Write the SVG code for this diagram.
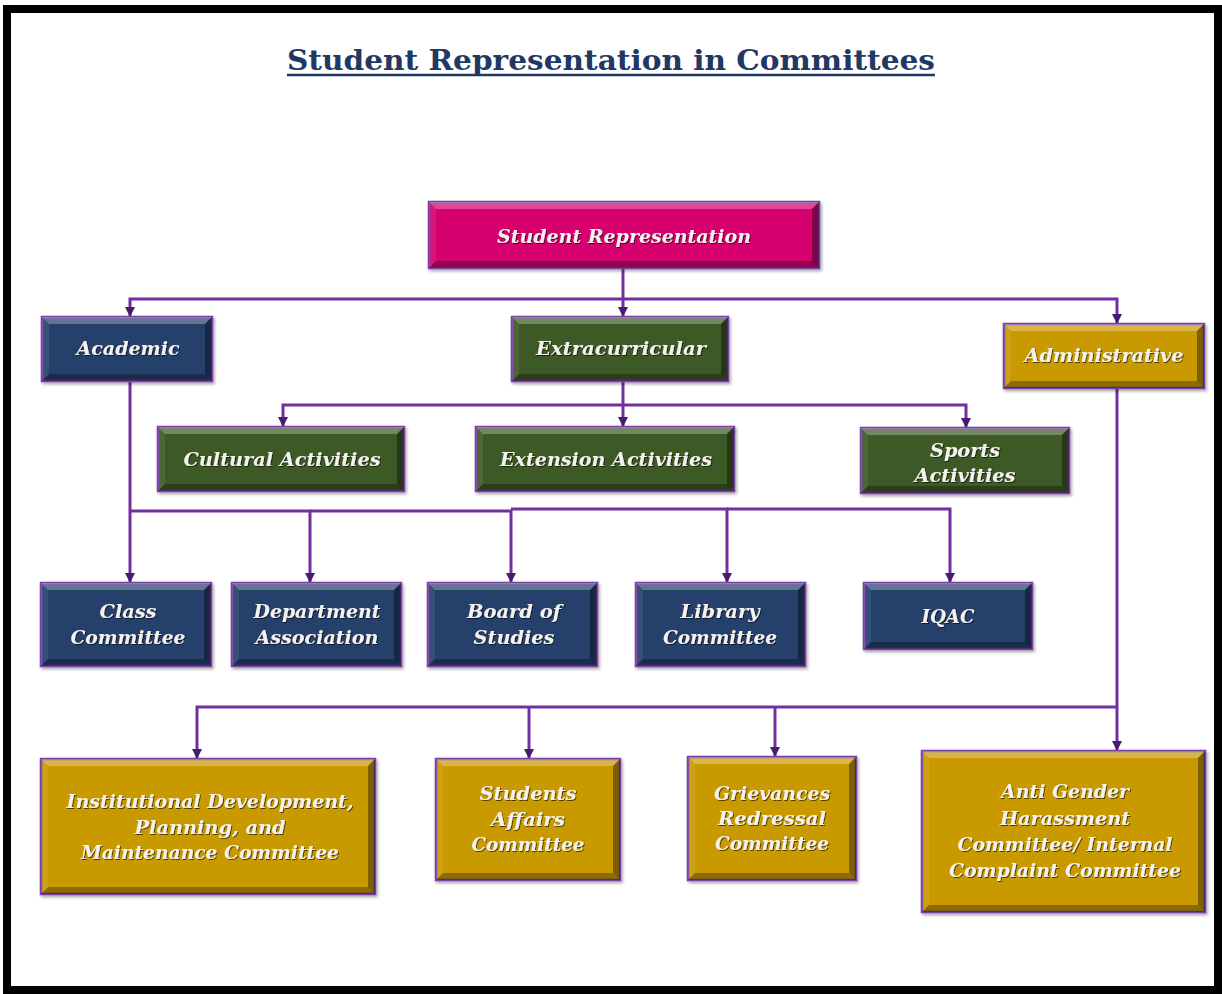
<svg xmlns="http://www.w3.org/2000/svg" width="1222" height="994" viewBox="0 0 1222 994">
<style>
.frame{fill:#ffffff;stroke:#000;stroke-width:8}
.title{font-family:"DejaVu Serif","Liberation Serif",serif;font-weight:bold;font-size:28px;fill:#1f3864;text-anchor:middle}
.box{stroke:#7a3fa6;stroke-width:2.5}
.mag{fill:#d6006e}
.nav{fill:#263f6c}
.grn{fill:#3c5a27}
.gld{fill:#c99a04}
.bt{fill:#ffffff;fill-opacity:0.28}
.bl{fill:#ffffff;fill-opacity:0.08}
.br{fill:#000000;fill-opacity:0.38}
.bb{fill:#000000;fill-opacity:0.3}
.t{font-family:"DejaVu Serif","Liberation Serif",serif;font-weight:bold;font-style:italic;font-size:18px;fill:#f4f2ee;text-anchor:middle}
.c{fill:none;stroke:#7030a0;stroke-width:3}
</style>
<defs>
<marker id="ah" viewBox="0 0 10 10" refX="10" refY="5" markerWidth="10" markerHeight="10" markerUnits="userSpaceOnUse" orient="auto">
<path d="M0,0 L10,5 L0,10 z" fill="#4a1a70"/>
</marker>
<filter id="ts" x="-10%" y="-30%" width="120%" height="160%">
<feDropShadow dx="1" dy="1" stdDeviation="0.6" flood-color="#000" flood-opacity="0.6"/>
</filter>
<filter id="bs" x="-5%" y="-5%" width="110%" height="115%">
<feDropShadow dx="1.5" dy="2" stdDeviation="1.5" flood-color="#000" flood-opacity="0.35"/>
</filter>
</defs>
<rect class="frame" x="7" y="9" width="1211" height="981"/>
<g id="title">
<text class="title" x="611" y="70" textLength="648" lengthAdjust="spacingAndGlyphs">Student Representation in Committees</text>
<line x1="287" y1="75" x2="935" y2="75" stroke="#1f3864" stroke-width="2.5"/>
</g>
<g id="connectors">
<path class="c" d="M623,268 V317" marker-end="url(#ah)"/>
<path class="c" d="M623,299 H130 V317" marker-end="url(#ah)"/>
<path class="c" d="M623,299 H1117 V324" marker-end="url(#ah)"/>
<path class="c" d="M623,381 V427" marker-end="url(#ah)"/>
<path class="c" d="M623,405 H283 V427" marker-end="url(#ah)"/>
<path class="c" d="M623,405 H966 V428" marker-end="url(#ah)"/>
<path class="c" d="M130,381 V583" marker-end="url(#ah)"/>
<path class="c" d="M130,511 H310 V583" marker-end="url(#ah)"/>
<path class="c" d="M310,511 H511 V583" marker-end="url(#ah)"/>
<path class="c" d="M511,509 H727 V583" marker-end="url(#ah)"/>
<path class="c" d="M727,509 H950 V583" marker-end="url(#ah)"/>
<path class="c" d="M1117,388 V751" marker-end="url(#ah)"/>
<path class="c" d="M1117,707 H197 V759" marker-end="url(#ah)"/>
<path class="c" d="M529,707 V759" marker-end="url(#ah)"/>
<path class="c" d="M775,707 V757" marker-end="url(#ah)"/>
</g>
<g id="student-representation">
<rect class="box mag" x="429" y="202" width="390" height="66" filter="url(#bs)"/>
<polygon class="bt" points="429,202 819,202 812,209 436,209"/>
<polygon class="bl" points="429,202 436,209 436,261 429,268"/>
<polygon class="br" points="819,202 819,268 812,261 812,209"/>
<polygon class="bb" points="429,268 819,268 812,261 436,261"/>
<text class="t" x="624" y="243" textLength="254" lengthAdjust="spacingAndGlyphs" filter="url(#ts)">Student Representation</text>
</g>
<g id="academic">
<rect class="box nav" x="42" y="317" width="170" height="64" filter="url(#bs)"/>
<polygon class="bt" points="42,317 212,317 205,324 49,324"/>
<polygon class="bl" points="42,317 49,324 49,374 42,381"/>
<polygon class="br" points="212,317 212,381 205,374 205,324"/>
<polygon class="bb" points="42,381 212,381 205,374 49,374"/>
<text class="t" x="128" y="355" textLength="103" lengthAdjust="spacingAndGlyphs" filter="url(#ts)">Academic</text>
</g>
<g id="extracurricular">
<rect class="box grn" x="512" y="317" width="216" height="64" filter="url(#bs)"/>
<polygon class="bt" points="512,317 728,317 721,324 519,324"/>
<polygon class="bl" points="512,317 519,324 519,374 512,381"/>
<polygon class="br" points="728,317 728,381 721,374 721,324"/>
<polygon class="bb" points="512,381 728,381 721,374 519,374"/>
<text class="t" x="621" y="355" textLength="170" lengthAdjust="spacingAndGlyphs" filter="url(#ts)">Extracurricular</text>
</g>
<g id="administrative">
<rect class="box gld" x="1004" y="324" width="200" height="64" filter="url(#bs)"/>
<polygon class="bt" points="1004,324 1204,324 1197,331 1011,331"/>
<polygon class="bl" points="1004,324 1011,331 1011,381 1004,388"/>
<polygon class="br" points="1204,324 1204,388 1197,381 1197,331"/>
<polygon class="bb" points="1004,388 1204,388 1197,381 1011,381"/>
<text class="t" x="1104" y="362" textLength="159" lengthAdjust="spacingAndGlyphs" filter="url(#ts)">Administrative</text>
</g>
<g id="cultural-activities">
<rect class="box grn" x="158" y="427" width="246" height="64" filter="url(#bs)"/>
<polygon class="bt" points="158,427 404,427 397,434 165,434"/>
<polygon class="bl" points="158,427 165,434 165,484 158,491"/>
<polygon class="br" points="404,427 404,491 397,484 397,434"/>
<polygon class="bb" points="158,491 404,491 397,484 165,484"/>
<text class="t" x="282" y="466" textLength="197" lengthAdjust="spacingAndGlyphs" filter="url(#ts)">Cultural Activities</text>
</g>
<g id="extension-activities">
<rect class="box grn" x="476" y="427" width="258" height="64" filter="url(#bs)"/>
<polygon class="bt" points="476,427 734,427 727,434 483,434"/>
<polygon class="bl" points="476,427 483,434 483,484 476,491"/>
<polygon class="br" points="734,427 734,491 727,484 727,434"/>
<polygon class="bb" points="476,491 734,491 727,484 483,484"/>
<text class="t" x="606" y="466" textLength="212" lengthAdjust="spacingAndGlyphs" filter="url(#ts)">Extension Activities</text>
</g>
<g id="sports-activities">
<rect class="box grn" x="861" y="428" width="208" height="65" filter="url(#bs)"/>
<polygon class="bt" points="861,428 1069,428 1062,435 868,435"/>
<polygon class="bl" points="861,428 868,435 868,486 861,493"/>
<polygon class="br" points="1069,428 1069,493 1062,486 1062,435"/>
<polygon class="bb" points="861,493 1069,493 1062,486 868,486"/>
<text class="t" filter="url(#ts)"><tspan x="965" y="457" textLength="70" lengthAdjust="spacingAndGlyphs">Sports</tspan><tspan x="965" y="482" textLength="101" lengthAdjust="spacingAndGlyphs">Activities</tspan></text>
</g>
<g id="class-committee">
<rect class="box nav" x="41" y="583" width="170" height="83" filter="url(#bs)"/>
<polygon class="bt" points="41,583 211,583 204,590 48,590"/>
<polygon class="bl" points="41,583 48,590 48,659 41,666"/>
<polygon class="br" points="211,583 211,666 204,659 204,590"/>
<polygon class="bb" points="41,666 211,666 204,659 48,659"/>
<text class="t" filter="url(#ts)"><tspan x="128" y="618" textLength="57" lengthAdjust="spacingAndGlyphs">Class</tspan><tspan x="128" y="644" textLength="115" lengthAdjust="spacingAndGlyphs">Committee</tspan></text>
</g>
<g id="department-association">
<rect class="box nav" x="232" y="583" width="169" height="83" filter="url(#bs)"/>
<polygon class="bt" points="232,583 401,583 394,590 239,590"/>
<polygon class="bl" points="232,583 239,590 239,659 232,666"/>
<polygon class="br" points="401,583 401,666 394,659 394,590"/>
<polygon class="bb" points="232,666 401,666 394,659 239,659"/>
<text class="t" filter="url(#ts)"><tspan x="317" y="618" textLength="127" lengthAdjust="spacingAndGlyphs">Department</tspan><tspan x="317" y="644" textLength="123" lengthAdjust="spacingAndGlyphs">Association</tspan></text>
</g>
<g id="board-of-studies">
<rect class="box nav" x="428" y="583" width="169" height="83" filter="url(#bs)"/>
<polygon class="bt" points="428,583 597,583 590,590 435,590"/>
<polygon class="bl" points="428,583 435,590 435,659 428,666"/>
<polygon class="br" points="597,583 597,666 590,659 590,590"/>
<polygon class="bb" points="428,666 597,666 590,659 435,659"/>
<text class="t" filter="url(#ts)"><tspan x="514" y="618" textLength="94" lengthAdjust="spacingAndGlyphs">Board of</tspan><tspan x="514" y="644" textLength="81" lengthAdjust="spacingAndGlyphs">Studies</tspan></text>
</g>
<g id="library-committee">
<rect class="box nav" x="636" y="583" width="169" height="83" filter="url(#bs)"/>
<polygon class="bt" points="636,583 805,583 798,590 643,590"/>
<polygon class="bl" points="636,583 643,590 643,659 636,666"/>
<polygon class="br" points="805,583 805,666 798,659 798,590"/>
<polygon class="bb" points="636,666 805,666 798,659 643,659"/>
<text class="t" filter="url(#ts)"><tspan x="720" y="618" textLength="79" lengthAdjust="spacingAndGlyphs">Library</tspan><tspan x="720" y="644" textLength="114" lengthAdjust="spacingAndGlyphs">Committee</tspan></text>
</g>
<g id="iqac">
<rect class="box nav" x="864" y="583" width="168" height="66" filter="url(#bs)"/>
<polygon class="bt" points="864,583 1032,583 1025,590 871,590"/>
<polygon class="bl" points="864,583 871,590 871,642 864,649"/>
<polygon class="br" points="1032,583 1032,649 1025,642 1025,590"/>
<polygon class="bb" points="864,649 1032,649 1025,642 871,642"/>
<text class="t" x="948" y="623" textLength="53" lengthAdjust="spacingAndGlyphs" filter="url(#ts)">IQAC</text>
</g>
<g id="institutional-development">
<rect class="box gld" x="41" y="759" width="334" height="135" filter="url(#bs)"/>
<polygon class="bt" points="41,759 375,759 368,766 48,766"/>
<polygon class="bl" points="41,759 48,766 48,887 41,894"/>
<polygon class="br" points="375,759 375,894 368,887 368,766"/>
<polygon class="bb" points="41,894 375,894 368,887 48,887"/>
<text class="t" filter="url(#ts)"><tspan x="210" y="808" textLength="287" lengthAdjust="spacingAndGlyphs">Institutional Development,</tspan><tspan x="210" y="834" textLength="151" lengthAdjust="spacingAndGlyphs">Planning, and</tspan><tspan x="210" y="859" textLength="258" lengthAdjust="spacingAndGlyphs">Maintenance Committee</tspan></text>
</g>
<g id="students-affairs">
<rect class="box gld" x="436" y="759" width="184" height="121" filter="url(#bs)"/>
<polygon class="bt" points="436,759 620,759 613,766 443,766"/>
<polygon class="bl" points="436,759 443,766 443,873 436,880"/>
<polygon class="br" points="620,759 620,880 613,873 613,766"/>
<polygon class="bb" points="436,880 620,880 613,873 443,873"/>
<text class="t" filter="url(#ts)"><tspan x="528" y="800" textLength="97" lengthAdjust="spacingAndGlyphs">Students</tspan><tspan x="528" y="826" textLength="74" lengthAdjust="spacingAndGlyphs">Affairs</tspan><tspan x="528" y="851" textLength="113" lengthAdjust="spacingAndGlyphs">Committee</tspan></text>
</g>
<g id="grievances-redressal">
<rect class="box gld" x="688" y="757" width="168" height="123" filter="url(#bs)"/>
<polygon class="bt" points="688,757 856,757 849,764 695,764"/>
<polygon class="bl" points="688,757 695,764 695,873 688,880"/>
<polygon class="br" points="856,757 856,880 849,873 849,764"/>
<polygon class="bb" points="688,880 856,880 849,873 695,873"/>
<text class="t" filter="url(#ts)"><tspan x="772" y="800" textLength="116" lengthAdjust="spacingAndGlyphs">Grievances</tspan><tspan x="772" y="825" textLength="108" lengthAdjust="spacingAndGlyphs">Redressal</tspan><tspan x="772" y="850" textLength="114" lengthAdjust="spacingAndGlyphs">Committee</tspan></text>
</g>
<g id="anti-gender-harassment">
<rect class="box gld" x="922" y="751" width="283" height="161" filter="url(#bs)"/>
<polygon class="bt" points="922,751 1205,751 1198,758 929,758"/>
<polygon class="bl" points="922,751 929,758 929,905 922,912"/>
<polygon class="br" points="1205,751 1205,912 1198,905 1198,758"/>
<polygon class="bb" points="922,912 1205,912 1198,905 929,905"/>
<text class="t" filter="url(#ts)"><tspan x="1065" y="798" textLength="128" lengthAdjust="spacingAndGlyphs">Anti Gender</tspan><tspan x="1065" y="825" textLength="130" lengthAdjust="spacingAndGlyphs">Harassment</tspan><tspan x="1065" y="851" textLength="215" lengthAdjust="spacingAndGlyphs">Committee/ Internal</tspan><tspan x="1065" y="877" textLength="232" lengthAdjust="spacingAndGlyphs">Complaint Committee</tspan></text>
</g>
</svg>
